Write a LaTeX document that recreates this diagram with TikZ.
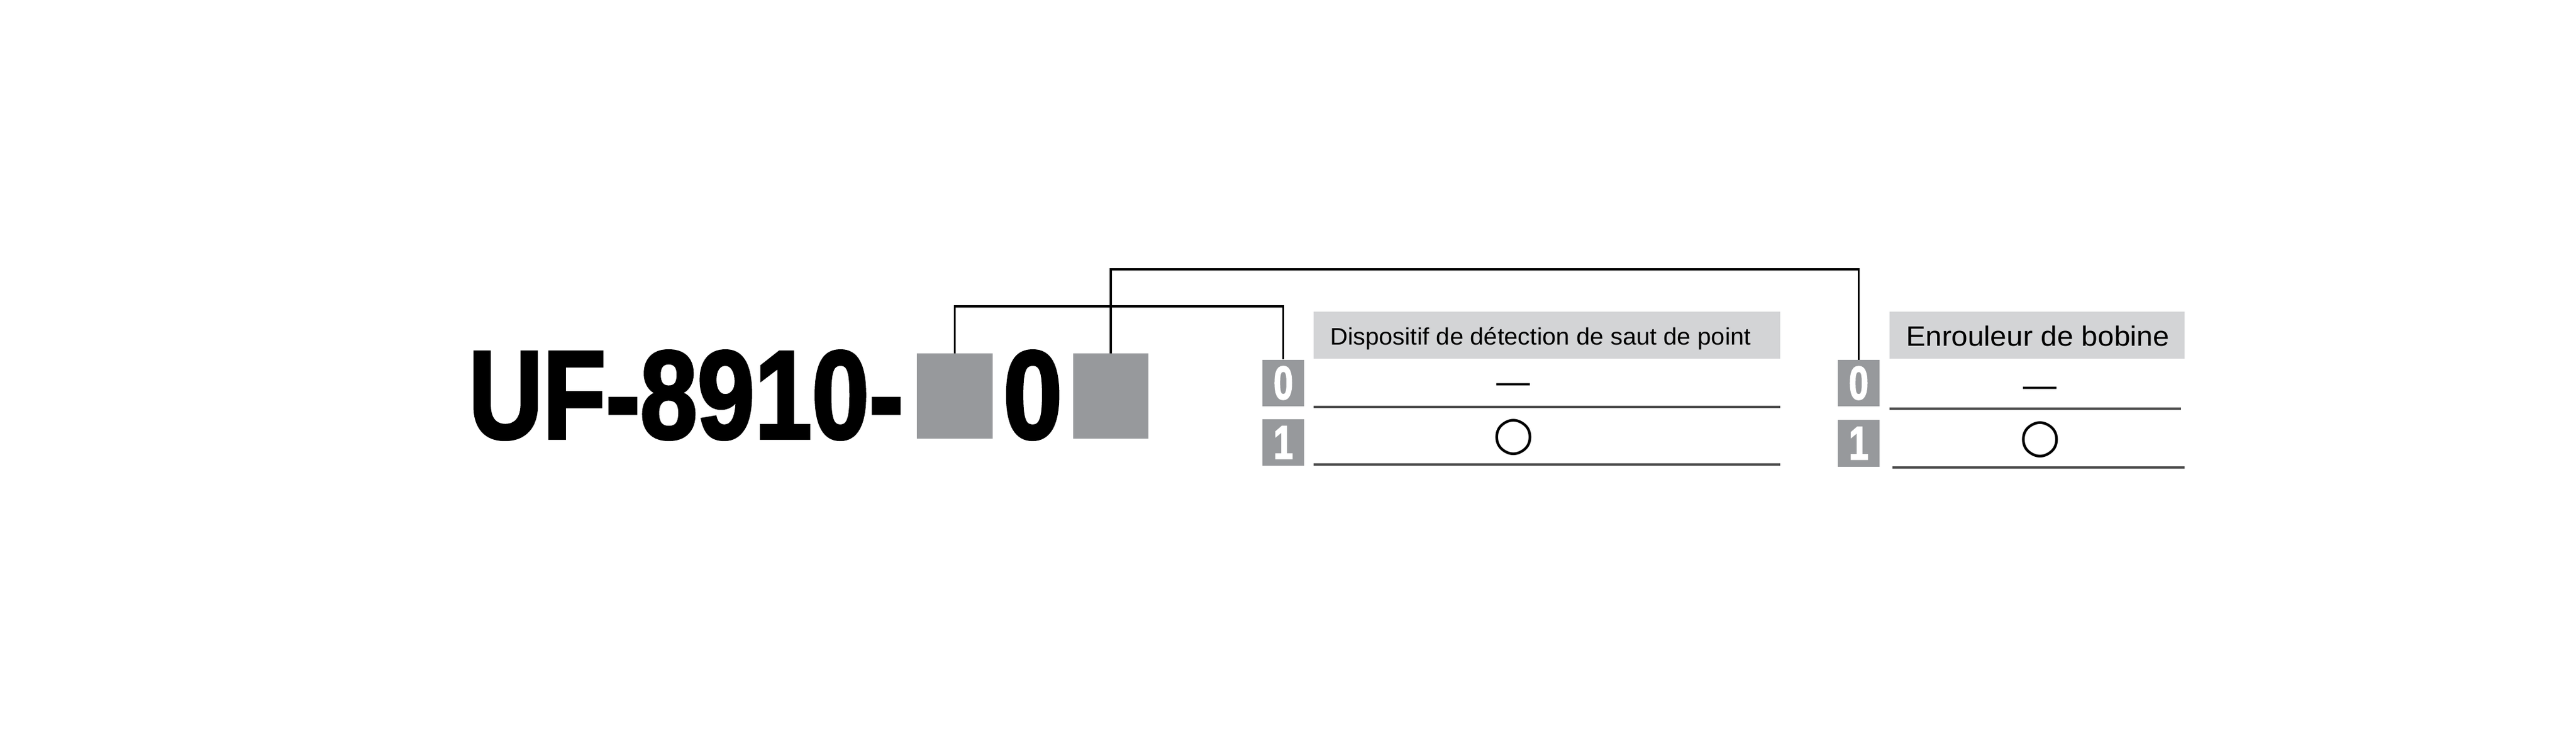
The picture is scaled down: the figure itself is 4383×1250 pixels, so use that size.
\documentclass[tikz,border=0pt]{standalone}
\usepackage{fontspec}
\setmainfont{Liberation Sans}
\newfontfamily\heavy{Liberation Sans}[BoldFeatures={FakeBold=2.5}]
\newfontfamily\djv{DejaVu Sans}
\definecolor{boxgray}{HTML}{97999C}
\definecolor{headgray}{HTML}{D3D4D6}
\definecolor{rulegray}{HTML}{4D4D4D}
\newcommand{\seldigit}[1]{\scalebox{0.75}[1]{\heavy\bfseries\fontsize{80}{80}\selectfont #1}}
\begin{document}
\begin{tikzpicture}[x=1pt,y=-1pt,
  slotbox/.style={fill=boxgray, inner sep=0, minimum width=128.5pt, minimum height=145.2pt},
  selbox/.style={fill=boxgray, inner sep=0, minimum width=71pt, minimum height=79.5pt, text=white},
  headbox/.style={fill=headgray, inner sep=0, minimum height=80pt},
  conn/.style={draw=black, line width=3.5pt},
  rowline/.style={draw=rulegray, line width=4pt},
  symb/.style={inner sep=0}
]
\useasboundingbox (0,0) rectangle (4383,1250);
\fill[white] (0,0) rectangle (4383,1250);

% model code
\node[anchor=base west, inner sep=0] (code) at (797,745.4)
  {\resizebox{740pt}{\height}{\heavy\bfseries\fontsize{213}{213}\selectfont UF-8910-}};
\node[slotbox] (b1) at (1624.7,673.4) {};
\node[anchor=base, inner sep=0] (zero) at (1757.2,745.4)
  {\scalebox{0.85}[1]{\heavy\bfseries\fontsize{213}{213}\selectfont 0}};
\node[slotbox] (b2) at (1890.2,673.4) {};

% table 1
\node[headbox, minimum width=794pt] (h1) at (2632.1,569.8) {};
\node[anchor=base west, inner sep=0] (h1t) at (2263,586)
  {\resizebox{716pt}{\height}{\fontsize{40.5}{40.5}\selectfont Dispositif de détection de saut de point}};
\node[selbox] (s0a) at (2183.5,651.3) {\seldigit{0}};
\node[selbox] (s1a) at (2183.5,752.5) {\seldigit{1}};
\draw[rowline] (2235,692) -- (3029,692);
\draw[rowline] (2235,790) -- (3029,790);
\node[symb, anchor=base] (d0a) at (2575,668) {\fontsize{57}{57}\selectfont —};
\node[symb] (c1a) at (2575,744) {\djv\fontsize{80}{80}\selectfont ○};

% table 2
\node[headbox, minimum width=502pt] (h2) at (3465.5,570.3) {};
\node[anchor=base west, inner sep=0] (h2t) at (3243,588)
  {\resizebox{448pt}{\height}{\fontsize{47.5}{47.5}\selectfont Enrouleur de bobine}};
\node[selbox] (s0b) at (3162.5,651.5) {\seldigit{0}};
\node[selbox] (s1b) at (3162.5,753.8) {\seldigit{1}};
\draw[rowline] (3214.5,694.8) -- (3711,694.8);
\draw[rowline] (3219.6,794.5) -- (3716.6,794.5);
\node[symb, anchor=base] (d0b) at (3471,674) {\fontsize{57}{57}\selectfont —};
\node[symb] (c1b) at (3471,748) {\djv\fontsize{80}{80}\selectfont ○};

% connectors
\coordinate (t1) at (0,521);
\coordinate (t2) at (0,458);
\draw[conn] (b1.north) |- (t1 -| s0a.north) -- (s0a.north);
\draw[conn] (b2.north) |- (t2 -| s0b.north) -- (s0b.north);
\end{tikzpicture}
\end{document}
